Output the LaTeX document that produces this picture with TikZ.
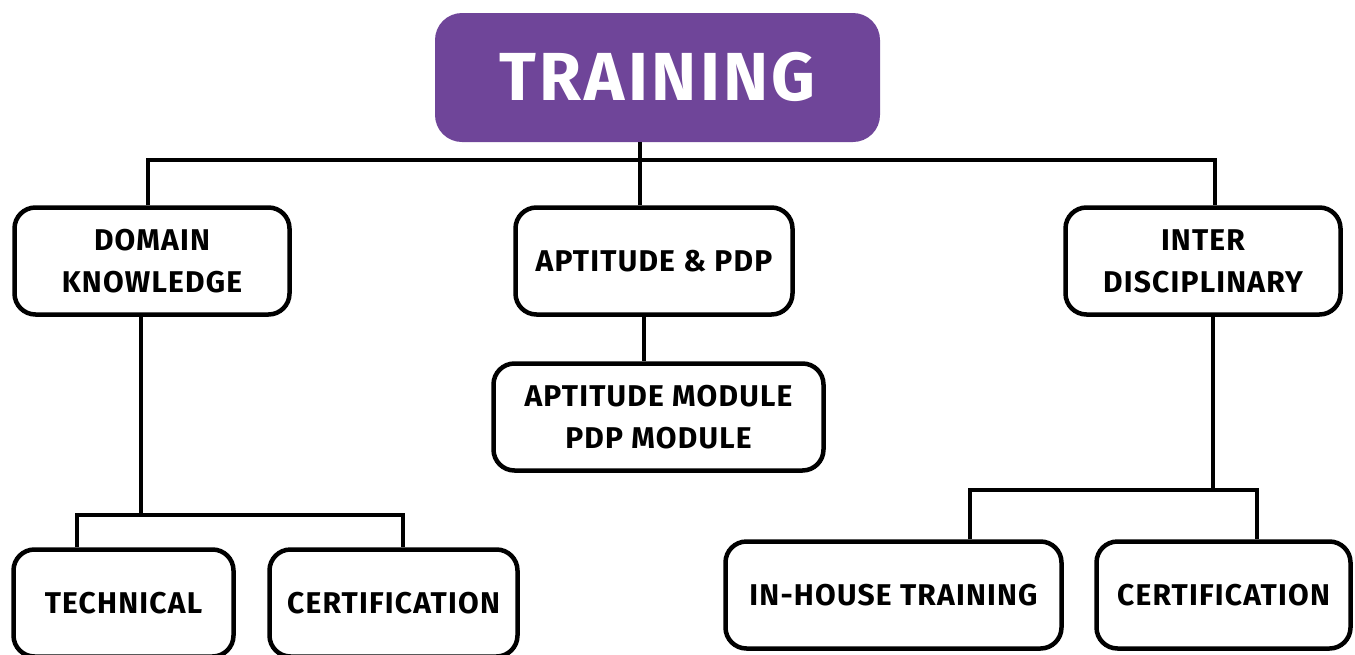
\documentclass[tikz,border=0pt]{standalone}
\usepackage{fontspec}
\setmainfont{Fira Sans}
\newfontfamily\titlefont[LetterSpace=5]{Fira Sans}
\newfontfamily\labelfont[LetterSpace=4]{Fira Sans}
\usepackage{tikz}
\usetikzlibrary{positioning}
\usetikzlibrary{calc}
\definecolor{trainpurple}{HTML}{6F4599}
\tikzstyle{topbox}=[rectangle,rounded corners=27pt,fill=trainpurple,text=white,minimum width=445pt,minimum height=129pt,inner sep=0pt,font=\titlefont\fontsize{68}{68}\selectfont\bfseries]
\tikzstyle{topicbox}=[rectangle,rounded corners=21pt,draw=black,line width=4.5pt,fill=white,minimum height=107pt,align=center,inner sep=0pt,font=\labelfont\fontsize{30}{42}\selectfont\bfseries]
\tikzstyle{link} = [draw,line width=4.5pt]

\begin{document}
\begin{tikzpicture}[x=1pt,y=-1pt]
    \useasboundingbox (0,0) rectangle (1355,654);
    % First we draw the boxes
    \node[topbox] (train) at (657.5,77.5) {\raisebox{3pt}{TRAINING}};
    \foreach \pos/\name/\boxw/\label in {{(152,261)/domain/275/DOMAIN\\KNOWLEDGE}, {(654,261)/aptitude/277/APTITUDE \& PDP}, {(1203,261)/inter/275/INTER\\DISCIPLINARY}, {(658.5,417)/aptmod/330/APTITUDE MODULE\\PDP MODULE}, {(123.5,603)/technical/220/TECHNICAL}, {(393.5,603)/certa/248/CERTIFICATION}, {(893.5,595)/inhouse/336/IN-HOUSE TRAINING}, {(1223.5,595)/certb/254/CERTIFICATION}}
        \node[topicbox, minimum width=\boxw pt] (\name) at \pos {\label};

    % Then the joints of the tree
    \coordinate (busL) at (148,160);
    \coordinate (busM) at (640,160);
    \coordinate (busR) at (1215,160);
    \coordinate (aptJ) at (644,340);
    \coordinate (domJ) at (141,515);
    \coordinate (techT) at (77,515);
    \coordinate (certaT) at (403,515);
    \coordinate (intJ) at (1213,490);
    \coordinate (inhT) at (970,490);
    \coordinate (certbT) at (1257,490);

    % Connect boxes with lines
    \path[link] (train.south -| busM) -- (busM) -- (aptitude.north -| busM);
    \path[link] (domain.north -| busL) -- (busL) -- (busR) -- (inter.north -| busR);
    \path[link] (aptitude.south -| aptJ) -- (aptmod.north -| aptJ);
    \path[link] (domain.south -| domJ) -- (domJ);
    \path[link] (technical.north -| techT) -- (techT) -- (certaT) -- (certa.north -| certaT);
    \path[link] (inter.south -| intJ) -- (intJ);
    \path[link] (inhouse.north -| inhT) -- (inhT) -- (certbT) -- (certb.north -| certbT);
\end{tikzpicture}
\end{document}
